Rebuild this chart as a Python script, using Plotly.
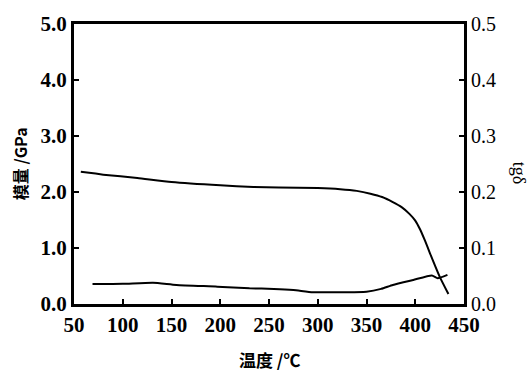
import plotly.graph_objects as go

# Modulus (GPa) vs temperature
temp_mod = [57, 80, 115, 150, 200, 234, 260, 300, 323, 340, 354, 366, 377, 386, 394, 400, 405, 410, 415, 425, 434]
modulus = [2.36, 2.31, 2.25, 2.18, 2.12, 2.09, 2.08, 2.07, 2.05, 2.02, 1.97, 1.91, 1.82, 1.73, 1.61, 1.49, 1.33, 1.13, 0.91, 0.49, 0.18]

# tan delta vs temperature
temp_tan = [69, 100, 131, 155, 197, 230, 255, 275, 295, 320, 350, 365, 377, 398, 417, 423, 433]
tan_delta = [0.0355, 0.036, 0.038, 0.034, 0.031, 0.028, 0.027, 0.025, 0.021, 0.021, 0.022, 0.027, 0.034, 0.043, 0.051, 0.046, 0.052]

x_ticks = [50, 100, 150, 200, 250, 300, 350, 400, 450]
y_ticks = [0, 1, 2, 3, 4, 5]
y_labels = ["0.0", "1.0", "2.0", "3.0", "4.0", "5.0"]
y2_ticks = [0, 0.1, 0.2, 0.3, 0.4, 0.5]
y2_labels = ["0.0", "0.1", "0.2", "0.3", "0.4", "0.5"]

fig = go.Figure()
fig.add_trace(go.Scatter(x=temp_mod, y=modulus, mode="lines", line=dict(color="black", width=2, shape="spline", smoothing=0.5), showlegend=False))
fig.add_trace(go.Scatter(x=temp_tan, y=tan_delta, mode="lines", yaxis="y2", line=dict(color="black", width=2, shape="spline", smoothing=0.5), showlegend=False))

tickfont = dict(family="Liberation Serif", size=21, color="black")
fig.update_layout(
    width=530, height=374,
    margin=dict(l=74, r=66, t=22, b=70),
    paper_bgcolor="white", plot_bgcolor="white",
    xaxis=dict(range=[50, 450], tickvals=x_ticks, ticktext=[f"<b>{v}</b>" for v in x_ticks],
               ticks="inside", ticklen=5, tickwidth=2, tickcolor="black",
               showline=True, linecolor="black", linewidth=3, mirror=True,
               showgrid=False, zeroline=False, tickfont=tickfont),
    yaxis=dict(range=[0, 5], tickvals=y_ticks, ticktext=[f"<b>{t}</b>" for t in y_labels],
               ticks="inside", ticklen=5, tickwidth=2, tickcolor="black",
               showline=True, linecolor="black", linewidth=3,
               showgrid=False, zeroline=False, tickfont=tickfont),
    yaxis2=dict(range=[0, 0.5], tickvals=y2_ticks, ticktext=y2_labels, overlaying="y", side="right",
                ticks="inside", ticklen=5, tickwidth=2, tickcolor="black",
                showline=True, linecolor="black", linewidth=3,
                showgrid=False, zeroline=False, tickfont=dict(family="Liberation Serif", size=20, color="black")),
    annotations=[
        dict(text="<b>温度 /℃</b>", x=0.5, y=-0.145, xref="paper", yref="paper", xanchor="center", yanchor="top",
             showarrow=False, font=dict(family="Noto Sans CJK SC", size=17, color="black")),
        dict(text="<b>模量 /GPa</b>", x=-0.138, y=0.5, xref="paper", yref="paper", xanchor="center", yanchor="middle",
             textangle=-90, showarrow=False, font=dict(family="Noto Sans CJK SC", size=16, color="black")),
        dict(text="tgδ", x=1.14, y=0.47, xref="paper", yref="paper", xanchor="center", yanchor="middle",
             textangle=90, showarrow=False, font=dict(family="Liberation Serif", size=18, color="black")),
    ],
)
fig.write_html("out.html")
